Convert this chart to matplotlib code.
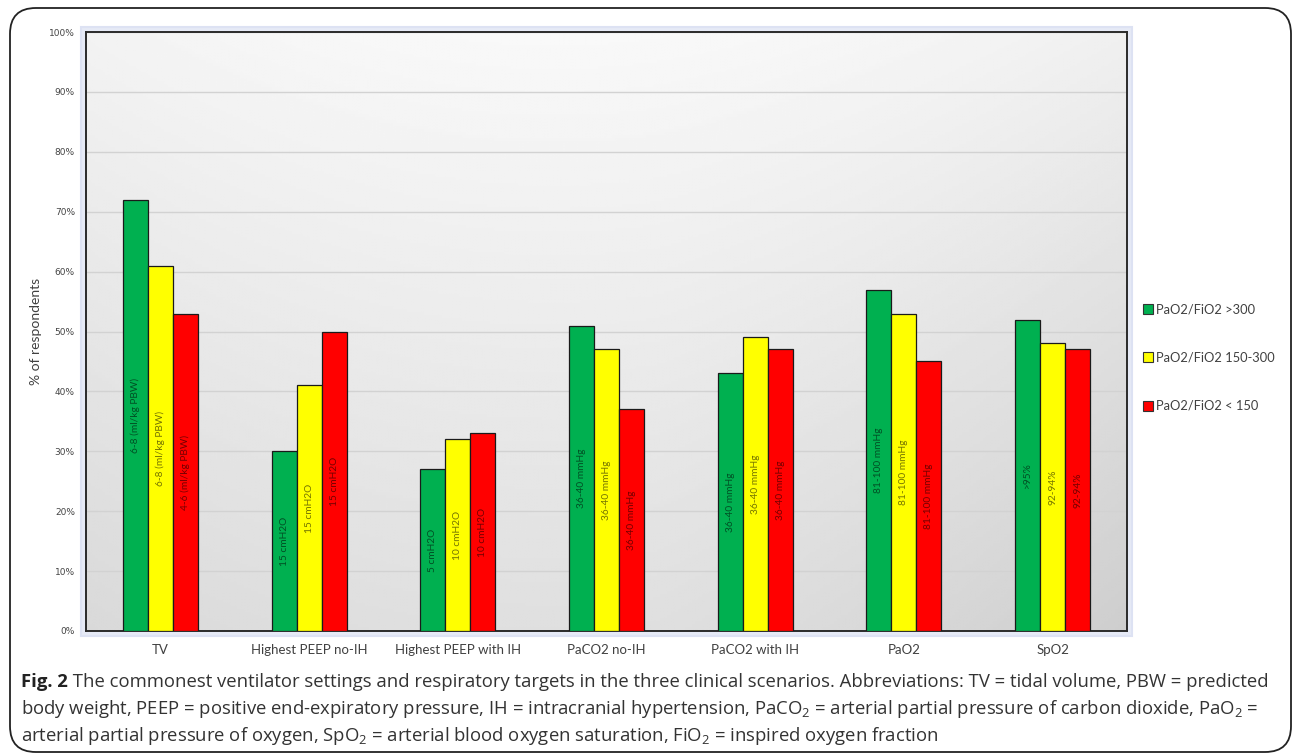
import numpy as np
import matplotlib
matplotlib.use("Agg")
import matplotlib.pyplot as plt
from matplotlib.patches import FancyBboxPatch, Rectangle
from matplotlib.lines import Line2D

plt.rcParams['mathtext.fontset'] = 'custom'
plt.rcParams['mathtext.rm'] = 'Open Sans'
plt.rcParams['mathtext.bf'] = 'Open Sans:bold'

# data
categories = ['TV', 'Highest PEEP no-IH', 'Highest PEEP with IH', 'PaCO2 no-IH',
              'PaCO2 with IH', 'PaO2', 'SpO2']
series_names = ['PaO2/FiO2 >300', 'PaO2/FiO2 150-300', 'PaO2/FiO2 < 150']
high = [72, 30, 27, 51, 43, 57, 52]
mid = [61, 41, 32, 47, 49, 53, 48]
low = [53, 50, 33, 37, 47, 45, 47]
high_labels = ['6-8 (ml/kg PBW)', '15 cmH2O', '5 cmH2O', '36-40 mmHg', '36-40 mmHg',
               '81-100 mmHg', '>95%']
mid_labels = ['6-8 (ml/kg PBW)', '15 cmH2O', '10 cmH2O', '36-40 mmHg', '36-40 mmHg',
              '81-100 mmHg', '92-94%']
low_labels = ['4-6 (ml/kg PBW)', '15 cmH2O', '10 cmH2O', '36-40 mmHg', '36-40 mmHg',
              '81-100 mmHg', '92-94%']
colors = ['#00B050', '#FFFF00', '#FF0000']

W, H = 1292, 755
fig = plt.figure(figsize=(W / 100, H / 100), dpi=100)

def px(x0, y0, x1, y1):
    # pixel box (top-left origin) -> figure fraction rect
    return [x0 / W, 1 - y1 / H, (x1 - x0) / W, (y1 - y0) / H]

# outer rounded frame
r = px(10, 8, 1291, 752)
fig.patches.append(FancyBboxPatch((r[0], r[1]), r[2], r[3],
                                  boxstyle='round,pad=0,rounding_size=0.02',
                                  transform=fig.transFigure, fc='white',
                                  ec='#222222', lw=1.3, zorder=0,
                                  mutation_aspect=W / H))

# soft blue glow round the plot area
g = px(81, 27, 1132, 636)
fig.patches.append(Rectangle((g[0], g[1]), g[2], g[3], transform=fig.transFigure,
                             fc='#e6eaf6', ec='#dde2f3', lw=1.5, zorder=1))

ax = fig.add_axes(px(86, 32, 1127, 631))
ax.set_zorder(2)

# shaded background
yy, xx = np.mgrid[0:1:200j, 0:1:300j]
shade = 0.975 - 0.10 * (1 - yy) - 0.12 * (xx - 0.45) ** 2 - 0.07 * np.clip(xx - 0.55, 0, 1) * (1 - yy)
ax.imshow(shade, extent=[0, 1, 0, 1], transform=ax.transAxes, cmap='gray',
          vmin=0, vmax=1, aspect='auto', zorder=0, origin='lower')

x = np.arange(len(categories))
w = 0.168
for i, (vals, labs) in enumerate(zip([high, mid, low], [high_labels, mid_labels, low_labels])):
    pos = x + (i - 1) * w
    ax.bar(pos, vals, width=w, color=colors[i], edgecolor='#1a1a1a', lw=0.9,
           zorder=3, label=series_names[i])
    for p, v, t in zip(pos, vals, labs):
        ax.text(p, v / 2, t, rotation=90, ha='center', va='center',
                fontsize=7.3, family='Lato', color='black', alpha=0.55, zorder=4)

ax.set_xlim(-0.5, len(categories) - 0.5)
ax.set_ylim(0, 100)
ax.set_yticks(np.arange(0, 101, 10))
ax.set_yticklabels(['%d%%' % v for v in range(0, 101, 10)], fontsize=6.5,
                   family='DejaVu Sans', color='#444444')
ax.set_xticks(x)
ax.set_xticklabels(categories, fontsize=9.5, family='Lato', color='#404040')
ax.tick_params(axis='x', length=0, pad=9)
ax.tick_params(axis='y', length=0, pad=8)
ax.yaxis.grid(True, color='#d2d2d2', lw=1.0, zorder=1)
ax.set_axisbelow(True)
for s in ax.spines.values():
    s.set_color('#2a2a2a')
    s.set_linewidth(1.4)

ax.set_ylabel('% of respondents', fontsize=10, family='Lato', color='#404040')
ax.yaxis.set_label_coords((42 - 86) / (1127 - 86), 0.5)

# legend on the right
leg_y = [309, 357, 406]
for c, name, yp in zip(colors, series_names, leg_y):
    fig.add_artist(Line2D([1148 / W], [1 - yp / H], marker='s', ms=7, mfc=c,
                          mec='#333333', mew=0.8, ls='none'))
    fig.text(1156 / W, 1 - yp / H, name, fontsize=9.3, family='Lato',
             color='#404040', va='center', ha='left')

# caption
cap = [' The commonest ventilator settings and respiratory targets in the three clinical scenarios. Abbreviations: TV = tidal volume, PBW = predicted',
       r'body weight, PEEP = positive end-expiratory pressure, IH = intracranial hypertension, PaCO$_2$ = arterial partial pressure of carbon dioxide, PaO$_2$ =',
       r'arterial partial pressure of oxygen, SpO$_2$ = arterial blood oxygen saturation, FiO$_2$ = inspired oxygen fraction']
cap_y = [687, 714, 741]
cap_fs = 13.3
renderer = fig.canvas.get_renderer()
figlab = fig.text(21 / W, 1 - cap_y[0] / H, 'Fig. 2', fontsize=cap_fs, family='Open Sans',
                  fontweight='bold', color='#222222', va='baseline', ha='left')
bb = figlab.get_window_extent(renderer)
fig.text(bb.x1 / W, 1 - cap_y[0] / H, cap[0], fontsize=cap_fs, family='Open Sans',
         color='#333333', va='baseline', ha='left')
for line, yp in zip(cap[1:], cap_y[1:]):
    fig.text(21 / W, 1 - yp / H, line, fontsize=cap_fs, family='Open Sans',
             color='#333333', va='baseline', ha='left')

fig.savefig('out.png', dpi=100)
